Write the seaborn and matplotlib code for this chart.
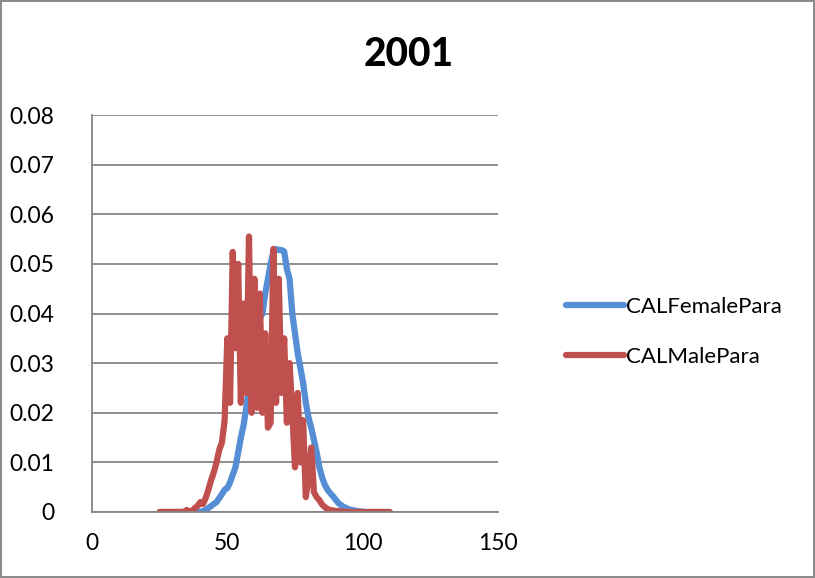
import numpy as np
import pandas as pd
import matplotlib
matplotlib.use("Agg")
import matplotlib.pyplot as plt
import seaborn as sns
from matplotlib.lines import Line2D

title = "2001"
series_names = ["CALFemalePara", "CALMalePara"]
length = list(range(25, 111))

female = [0]*15 + [  # 25..39
    0.0, 0.0002, 0.0004, 0.0008, 0.0012, 0.0016, 0.0020, 0.0028, 0.0036, 0.0045,  # 40..49
    0.0048, 0.0060, 0.0075, 0.0090, 0.0120, 0.0150, 0.0175, 0.0210, 0.0250, 0.0300,  # 50..59
    0.0340, 0.0370, 0.0390, 0.0400, 0.0440, 0.0470, 0.0500, 0.0525, 0.0530, 0.0528,  # 60..69
    0.0528, 0.0525, 0.0490, 0.0470, 0.0400, 0.0360, 0.0320, 0.0290, 0.0260, 0.0220,  # 70..79
    0.0190, 0.0170, 0.0145, 0.0120, 0.0090, 0.0070, 0.0055, 0.0045, 0.0038, 0.0032,  # 80..89
    0.0025, 0.0018, 0.0014, 0.0010, 0.0008, 0.0005, 0.0004, 0.0003, 0.0002, 0.0001,  # 90..99
    0.0001, 0.0, 0.0, 0.0, 0.0, 0.0, 0.0, 0.0, 0.0, 0.0, 0.0,  # 100..110
]

male = [0]*9 + [  # 25..33
    0.0, 0.0004, 0.0, 0.0002, 0.0008, 0.0012, 0.0020, 0.0016, 0.0028, 0.0045,  # 34..43
    0.0064, 0.0080, 0.0100, 0.0125, 0.0140, 0.0185, 0.0350, 0.0220, 0.0524, 0.0330,  # 44..53
    0.0500, 0.0220, 0.0420, 0.0240, 0.0555, 0.0200, 0.0470, 0.0210, 0.0440, 0.0200,  # 54..63
    0.0360, 0.0170, 0.0180, 0.0530, 0.0220, 0.0470, 0.0240, 0.0350, 0.0180, 0.0300,  # 64..73
    0.0200, 0.0090, 0.0240, 0.0100, 0.0185, 0.0030, 0.0070, 0.0130, 0.0040, 0.0030,  # 74..83
    0.0024, 0.0015, 0.0010, 0.0006, 0.0004, 0.0003, 0.0002, 0.0002, 0.0001, 0.0001,  # 84..93
] + [0.0]*17  # 94..110

colors = ["#558ED5", "#C0504D"]

df = pd.DataFrame({
    "Length": length * 2,
    "Value": female + male,
    "Series": [series_names[0]] * len(length) + [series_names[1]] * len(length),
})

sns.set_theme(style="white")
plt.rcParams["font.family"] = ["Lato", "DejaVu Sans"]
plt.rcParams["text.color"] = "black"

fig = plt.figure(figsize=(8.15, 5.78), dpi=100)
fig.patch.set_edgecolor("#8c8c8c")
fig.patch.set_linewidth(1.5)
ax = fig.add_axes([92/815, (578-512)/578, (498-92)/815, (512-115)/578])

sns.lineplot(data=df, x="Length", y="Value", hue="Series", palette=colors,
             linewidth=4.5, ax=ax, legend=False, sort=False)
for ln in ax.get_lines():
    ln.set_solid_capstyle("round")
    ln.set_solid_joinstyle("round")

ax.set_xlim(0, 150)
ax.set_ylim(0, 0.08)
ax.set_xticks([0, 50, 100, 150])
ax.set_yticks(np.arange(0, 0.081, 0.01))
ax.set_yticklabels(["0"] + [f"{v:.2f}" for v in np.arange(0.01, 0.081, 0.01)])
ax.set_xlabel("")
ax.set_ylabel("")
ax.grid(axis="y", color="#868686", linewidth=1.3)
ax.set_axisbelow(True)
for s in ["top", "right"]:
    ax.spines[s].set_visible(False)
for s in ["left", "bottom"]:
    ax.spines[s].set_color("#868686")
    ax.spines[s].set_linewidth(1.3)
ax.tick_params(axis="both", which="major", direction="out", length=7, width=1.3,
               color="#868686", labelsize=16.5, labelcolor="black", pad=8)
ax.tick_params(axis="y", pad=20)

fig.text(409/815, 1 - 54/578, title, ha="center", va="center", fontsize=28,
         fontweight="black", color="black")

handles = [Line2D([0], [0], color=c, linewidth=4.5, solid_capstyle="round") for c in colors]
fig.legend(handles, series_names, loc="center left",
           bbox_to_anchor=(546/815, 1 - 332/578), frameon=False, fontsize=16,
           handlelength=2.6, handletextpad=0.1, labelspacing=1.35)

fig.savefig("out.png", dpi=100)
